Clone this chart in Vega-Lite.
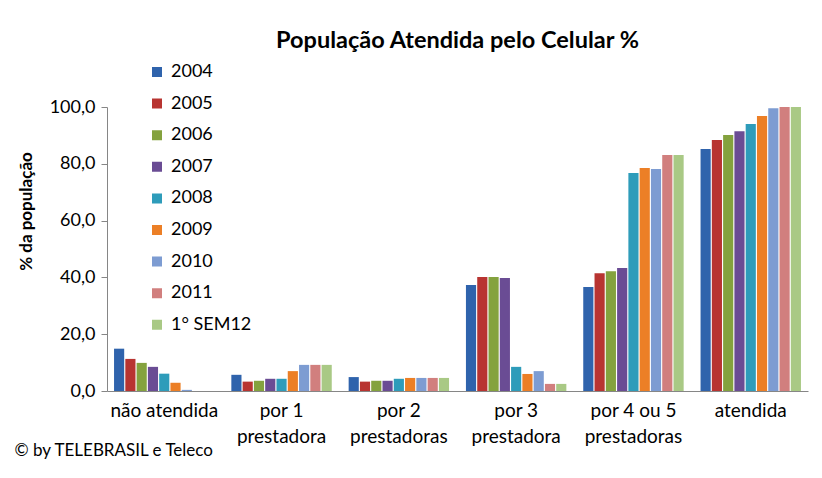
{
  "$schema": "https://vega.github.io/schema/vega-lite/v6.json",
  "autosize": "none",
  "width": 701,
  "height": 284,
  "padding": {"left": 107, "top": 107, "right": 14, "bottom": 87},
  "background": "white",
  "title": {"text": "População Atendida pelo Celular %", "fontSize": 23.5, "font": "Lato", "fontWeight": "bold", "color": "#000000", "anchor": "middle", "offset": 11},
  "data": {"values": [
    {"categoria": "não atendida", "ano": "2004", "valor": 14.9},
    {"categoria": "não atendida", "ano": "2005", "valor": 11.3},
    {"categoria": "não atendida", "ano": "2006", "valor": 9.9},
    {"categoria": "não atendida", "ano": "2007", "valor": 8.5},
    {"categoria": "não atendida", "ano": "2008", "valor": 6.1},
    {"categoria": "não atendida", "ano": "2009", "valor": 2.9},
    {"categoria": "não atendida", "ano": "2010", "valor": 0.4},
    {"categoria": "não atendida", "ano": "2011", "valor": 0.0},
    {"categoria": "não atendida", "ano": "1° SEM12", "valor": 0.0},
    {"categoria": "por 1|prestadora", "ano": "2004", "valor": 5.7},
    {"categoria": "por 1|prestadora", "ano": "2005", "valor": 3.3},
    {"categoria": "por 1|prestadora", "ano": "2006", "valor": 3.6},
    {"categoria": "por 1|prestadora", "ano": "2007", "valor": 4.3},
    {"categoria": "por 1|prestadora", "ano": "2008", "valor": 4.3},
    {"categoria": "por 1|prestadora", "ano": "2009", "valor": 7.0},
    {"categoria": "por 1|prestadora", "ano": "2010", "valor": 9.2},
    {"categoria": "por 1|prestadora", "ano": "2011", "valor": 9.2},
    {"categoria": "por 1|prestadora", "ano": "1° SEM12", "valor": 9.2},
    {"categoria": "por 2|prestadoras", "ano": "2004", "valor": 4.9},
    {"categoria": "por 2|prestadoras", "ano": "2005", "valor": 3.3},
    {"categoria": "por 2|prestadoras", "ano": "2006", "valor": 3.6},
    {"categoria": "por 2|prestadoras", "ano": "2007", "valor": 3.6},
    {"categoria": "por 2|prestadoras", "ano": "2008", "valor": 4.3},
    {"categoria": "por 2|prestadoras", "ano": "2009", "valor": 4.6},
    {"categoria": "por 2|prestadoras", "ano": "2010", "valor": 4.6},
    {"categoria": "por 2|prestadoras", "ano": "2011", "valor": 4.6},
    {"categoria": "por 2|prestadoras", "ano": "1° SEM12", "valor": 4.6},
    {"categoria": "por 3|prestadora", "ano": "2004", "valor": 37.3},
    {"categoria": "por 3|prestadora", "ano": "2005", "valor": 40.1},
    {"categoria": "por 3|prestadora", "ano": "2006", "valor": 40.1},
    {"categoria": "por 3|prestadora", "ano": "2007", "valor": 39.8},
    {"categoria": "por 3|prestadora", "ano": "2008", "valor": 8.5},
    {"categoria": "por 3|prestadora", "ano": "2009", "valor": 6.0},
    {"categoria": "por 3|prestadora", "ano": "2010", "valor": 7.0},
    {"categoria": "por 3|prestadora", "ano": "2011", "valor": 2.5},
    {"categoria": "por 3|prestadora", "ano": "1° SEM12", "valor": 2.5},
    {"categoria": "por 4 ou 5|prestadoras", "ano": "2004", "valor": 36.6},
    {"categoria": "por 4 ou 5|prestadoras", "ano": "2005", "valor": 41.5},
    {"categoria": "por 4 ou 5|prestadoras", "ano": "2006", "valor": 42.2},
    {"categoria": "por 4 ou 5|prestadoras", "ano": "2007", "valor": 43.3},
    {"categoria": "por 4 ou 5|prestadoras", "ano": "2008", "valor": 76.8},
    {"categoria": "por 4 ou 5|prestadoras", "ano": "2009", "valor": 78.5},
    {"categoria": "por 4 ou 5|prestadoras", "ano": "2010", "valor": 78.2},
    {"categoria": "por 4 ou 5|prestadoras", "ano": "2011", "valor": 83.1},
    {"categoria": "por 4 ou 5|prestadoras", "ano": "1° SEM12", "valor": 83.1},
    {"categoria": "atendida", "ano": "2004", "valor": 85.2},
    {"categoria": "atendida", "ano": "2005", "valor": 88.4},
    {"categoria": "atendida", "ano": "2006", "valor": 90.1},
    {"categoria": "atendida", "ano": "2007", "valor": 91.5},
    {"categoria": "atendida", "ano": "2008", "valor": 94.0},
    {"categoria": "atendida", "ano": "2009", "valor": 96.8},
    {"categoria": "atendida", "ano": "2010", "valor": 99.6},
    {"categoria": "atendida", "ano": "2011", "valor": 100.0},
    {"categoria": "atendida", "ano": "1° SEM12", "valor": 100.0}
  ]},
  "mark": {"type": "bar"},
  "encoding": {
    "x": {
      "field": "categoria", "type": "nominal",
      "sort": ["não atendida", "por 1|prestadora", "por 2|prestadoras", "por 3|prestadora", "por 4 ou 5|prestadoras", "atendida"],
      "scale": {"paddingInner": 0.144, "paddingOuter": 0.06},
      "axis": {
        "title": "© by TELEBRASIL e Teleco",
        "titleFont": "Lato", "titleFontSize": 17, "titleFontWeight": "normal", "titleColor": "#000000",
        "titleAnchor": "start", "titleAlign": "left", "titleBaseline": "middle", "titleX": -93, "titleY": 59,
        "labelAngle": 0, "labelFont": "Lato", "labelFontSize": 19, "labelColor": "#000000",
        "labelExpr": "split(datum.label, '|')", "labelLineHeight": 26, "labelPadding": 10, "labelBaseline": "top",
        "ticks": false, "domainColor": "#868686", "domainWidth": 1
      }
    },
    "xOffset": {
      "field": "ano", "type": "nominal",
      "sort": ["2004", "2005", "2006", "2007", "2008", "2009", "2010", "2011", "1° SEM12"],
      "scale": {"paddingInner": 0.1}
    },
    "y": {
      "field": "valor", "type": "quantitative",
      "scale": {"domain": [0, 100], "nice": false},
      "axis": {
        "title": "% da população", "titleFont": "Lato", "titleFontSize": 17, "titleFontWeight": "bold", "titleColor": "#000000",
        "titleX": -81, "titleY": 104, "titleBaseline": "middle", "titleAlign": "center",
        "values": [0, 20, 40, 60, 80, 100],
        "labelExpr": "replace(format(datum.value, '.1f'), '.', ',')",
        "labelFont": "Lato", "labelFontSize": 18, "labelColor": "#000000", "labelPadding": 6,
        "tickSize": 6, "tickColor": "#868686", "domainColor": "#868686", "grid": false
      }
    },
    "color": {
      "field": "ano", "type": "nominal",
      "sort": ["2004", "2005", "2006", "2007", "2008", "2009", "2010", "2011", "1° SEM12"],
      "scale": {
        "domain": ["2004", "2005", "2006", "2007", "2008", "2009", "2010", "2011", "1° SEM12"],
        "range": ["#2F63AC", "#B83431", "#84A23E", "#6A4C94", "#2E9CBA", "#EC7F26", "#7D9CD2", "#D17F7E", "#A9C985"]
      },
      "legend": {
        "title": null, "orient": "none", "legendX": 41, "legendY": -44,
        "symbolType": "square", "symbolSize": 100, "symbolStrokeWidth": 0,
        "labelFont": "Lato", "labelFontSize": 18, "labelColor": "#000000", "labelOffset": 5,
        "rowPadding": 13.6, "clipHeight": 18
      }
    }
  },
  "config": {"view": {"stroke": null}}
}
